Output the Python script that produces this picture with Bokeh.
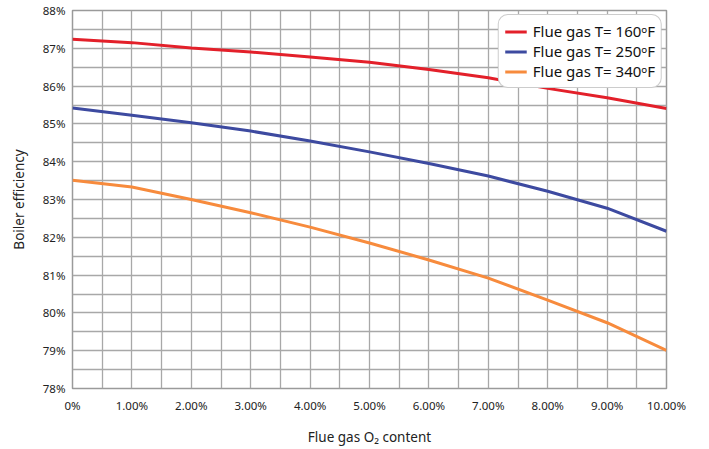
from bokeh.plotting import figure
from bokeh.models import Range1d, SingleIntervalTicker, FixedTicker, Legend, LegendItem
from bokeh.embed import file_html
from bokeh.resources import INLINE

# ---- data ----
o2_content = [0, 1, 2, 3, 4, 5, 6, 7, 8, 9, 10]
eff_160F = [87.24, 87.15, 87.01, 86.90, 86.77, 86.63, 86.44, 86.22, 85.94, 85.69, 85.41]
eff_250F = [85.42, 85.23, 85.03, 84.81, 84.55, 84.26, 83.95, 83.62, 83.22, 82.77, 82.16]
eff_340F = [83.51, 83.33, 83.00, 82.65, 82.27, 81.85, 81.40, 80.92, 80.34, 79.74, 79.01]

series_names = ["Flue gas T= 160ᵒF", "Flue gas T= 250ᵒF", "Flue gas T= 340ᵒF"]
series_colors = ["#e3202a", "#3d4aa0", "#f78b3d"]

x_ticks = [0, 1, 2, 3, 4, 5, 6, 7, 8, 9, 10]
x_tick_labels = ["0%", "1.00%", "2.00%", "3.00%", "4.00%", "5.00%",
                 "6.00%", "7.00%", "8.00%", "9.00%", "10.00%"]
y_ticks = [78, 79, 80, 81, 82, 83, 84, 85, 86, 87, 88]
y_tick_labels = ["78%", "79%", "80%", "81%", "82%", "83%", "84%", "85%", "86%", "87%", "88%"]

FONT = "Noto Sans"

p = figure(width=709, height=449, output_backend="svg", toolbar_location=None,
           x_range=Range1d(0, 10), y_range=Range1d(78, 88))
p.min_border_left = 72
p.min_border_right = 43
p.min_border_top = 10
p.min_border_bottom = 61
p.outline_line_color = "#9a9a9a"
p.outline_line_width = 1.5
p.background_fill_color = "white"
p.border_fill_color = "white"

# grid every 0.5
p.xgrid.ticker = SingleIntervalTicker(interval=0.5)
p.ygrid.ticker = SingleIntervalTicker(interval=0.5)
for g in (p.xgrid, p.ygrid):
    g.grid_line_color = "#a8a8a8"
    g.grid_line_width = 1.3
    g.grid_line_alpha = 1.0

# axes
p.xaxis.ticker = FixedTicker(ticks=x_ticks)
p.yaxis.ticker = FixedTicker(ticks=y_ticks)
p.xaxis.major_label_overrides = {t: l for t, l in zip(x_ticks, x_tick_labels)}
p.yaxis.major_label_overrides = {t: l for t, l in zip(y_ticks, y_tick_labels)}
for ax in (p.xaxis, p.yaxis):
    ax.axis_line_color = None
    ax.major_tick_line_color = None
    ax.minor_tick_line_color = None
    ax.major_tick_out = 0
    ax.major_tick_in = 0
    ax.minor_tick_out = 0
    ax.minor_tick_in = 0
    ax.major_label_text_font = FONT
    ax.major_label_text_font_size = "11.5px"
    ax.major_label_text_color = "#222222"
    ax.axis_label_text_font = FONT
    ax.axis_label_text_font_size = "13.5px"
    ax.axis_label_text_font_style = "normal"
    ax.axis_label_text_color = "#222222"
p.xaxis.major_label_standoff = 9
p.yaxis.major_label_standoff = 7
p.xaxis.axis_label = "Flue gas O₂ content"
p.yaxis.axis_label = "Boiler efficiency"
p.xaxis.axis_label_standoff = 12
p.yaxis.axis_label_standoff = 12

items = []
for name, col, ys in zip(series_names, series_colors, [eff_160F, eff_250F, eff_340F]):
    r = p.line(o2_content, ys, line_color=col, line_width=3)
    items.append(LegendItem(label=name, renderers=[r]))

legend = Legend(items=items, location="top_right")
legend.margin = 4
legend.padding = 6
legend.spacing = 0
legend.label_height = 19
legend.glyph_height = 19
legend.glyph_width = 22
legend.label_standoff = 6
legend.label_text_font = FONT
legend.label_text_font_size = "15px"
legend.label_text_color = "#111111"
legend.border_line_color = "#999999"
legend.border_line_width = 1.5
legend.background_fill_color = "white"
legend.background_fill_alpha = 1.0
try:
    legend.border_radius = 10
except Exception:
    pass
p.add_layout(legend)

open("out.html", "w").write(file_html(p, INLINE))
